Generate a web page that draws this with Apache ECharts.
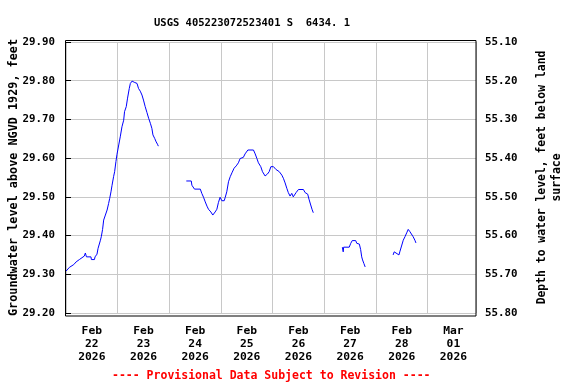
<!DOCTYPE html>
<html>
<head>
<meta charset="utf-8">
<script src="https://cdn.jsdelivr.net/npm/echarts@6/dist/echarts.min.js"></script>
<style>html,body{margin:0;padding:0;background:#fff}#c{width:576px;height:384px}</style>
</head>
<body>
<div id="c"></div>
<script>
// Hours since Feb 22 2026 00:00 and water level (ft above NGVD 1929)
const seg1Hours = [0.0,1.6,3.6,4.7,6.2,8.5,9.0,9.5,11.6,11.8,13.2,13.5,14.4,14.9,16.0,16.4,17.0,17.5,18.3,19.1,19.8,20.3,20.9,21.4,22.1,22.6,23.2,23.7,24.5,25.2,26.0,26.8,27.2,28.0,28.6,29.4,29.9,30.7,31.7,32.3,33.0,33.7,34.5,35.3,36.0,36.8,37.6,38.4,39.2,39.9,40.4,41.2,41.9,42.5,42.9];
const seg1Levels = [29.308,29.318,29.325,29.332,29.338,29.347,29.355,29.345,29.345,29.338,29.338,29.345,29.352,29.367,29.388,29.397,29.416,29.440,29.453,29.466,29.483,29.496,29.513,29.530,29.552,29.565,29.591,29.610,29.634,29.655,29.681,29.698,29.720,29.733,29.755,29.780,29.793,29.799,29.796,29.800,29.793,29.780,29.773,29.763,29.750,29.733,29.718,29.703,29.690,29.677,29.660,29.651,29.642,29.636,29.631];
const seg2Hours = [55.9,58.2,58.5,59.7,62.4,63.1,63.9,64.7,65.5,66.2,67.3,68.2,69.3,70.1,70.8,71.6,72.4,73.5,74.0,74.7,75.5,76.3,77.1,78.1,79.1,80.1,80.9,82.4,83.2,84.5,87.1,87.9,88.7,89.4,90.5,91.3,92.5,93.0,93.6,94.4,95.2,96.4,97.5,98.2,99.1,100.3,101.0,101.8,102.6,103.3,104.1,104.9,105.6,106.9,108.0,110.3,111.1,112.3,112.9,113.7,114.3,114.9];
const seg2Levels = [29.541,29.541,29.530,29.520,29.520,29.509,29.499,29.487,29.476,29.468,29.461,29.453,29.461,29.468,29.485,29.499,29.490,29.490,29.499,29.513,29.539,29.552,29.562,29.574,29.580,29.588,29.599,29.602,29.611,29.621,29.621,29.611,29.599,29.588,29.578,29.565,29.554,29.550,29.559,29.565,29.578,29.578,29.571,29.575,29.565,29.556,29.548,29.536,29.522,29.511,29.502,29.509,29.500,29.511,29.519,29.519,29.511,29.507,29.494,29.479,29.468,29.459];
const seg3Hours = [128.4,128.8,129.0,131.6,132.3,133.0,134.6,135.1,136.3,136.9,137.4,137.8,138.4,139.0];
const seg3Levels = [29.370,29.358,29.370,29.370,29.380,29.387,29.387,29.380,29.378,29.364,29.345,29.337,29.328,29.319];
const seg4Hours = [152.0,152.5,153.2,154.7,155.1,155.9,156.7,157.5,158.3,159.0,159.8,160.6,161.3,162.1,162.6];
const seg4Levels = [29.350,29.358,29.354,29.350,29.358,29.373,29.388,29.397,29.407,29.416,29.410,29.407,29.397,29.388,29.381];

const dayLabels = ['Feb\n22\n2026','Feb\n23\n2026','Feb\n24\n2026','Feb\n25\n2026','Feb\n26\n2026','Feb\n27\n2026','Feb\n28\n2026','Mar\n01\n2026'];
const leftTicks = [29.2, 29.9];
const rightTicks = [55.1, 55.8];
const titleText = 'USGS 405223072523401 S  6434. 1';
const footerText = '---- Provisional Data Subject to Revision ----';

const FONT = '"DejaVu Sans Mono", "Liberation Mono", monospace';
const zip = (h, v) => h.map((x, i) => [x, v[i]]);
const segs = [zip(seg1Hours, seg1Levels), zip(seg2Hours, seg2Levels), zip(seg3Hours, seg3Levels), zip(seg4Hours, seg4Levels)];

const chart = echarts.init(document.getElementById('c'), null, {renderer: 'canvas'});
chart.setOption({
  animation: false,
  backgroundColor: '#fff',
  title: {
    text: titleText, left: 247, top: 13, textAlign: 'center',
    textStyle: {fontFamily: FONT, fontWeight: 'bold', fontSize: 10.5, color: '#000'}
  },
  grid: {left: 66, right: 100, top: 42, bottom: 71, containLabel: false, outerBoundsMode: 'none'},
  xAxis: [
    {
      type: 'value', min: 0, max: 190.5, interval: 24,
      axisLine: {show: false}, axisTick: {show: false}, axisLabel: {show: false},
      splitLine: {show: true, lineStyle: {color: '#c8c8c8', width: 1}}
    },
    {
      type: 'value', min: 0, max: 190.5, interval: 12, position: 'bottom',
      axisLine: {show: false}, axisTick: {show: false}, splitLine: {show: false},
      axisLabel: {
        show: true, showMinLabel: true, showMaxLabel: true, hideOverlap: false, margin: 12,
        fontFamily: FONT, fontWeight: 'bold', fontSize: 11.3, lineHeight: 13, color: '#000',
        formatter: function (h) {
          const k = (h - 12) / 24;
          if (Math.abs(k - Math.round(k)) > 1e-6) return '';
          return dayLabels[Math.round(k)] || '';
        }
      }
    }
  ],
  yAxis: [
    {
      type: 'value', min: leftTicks[0], max: leftTicks[1], interval: 0.1, position: 'left',
      name: 'Groundwater level above NGVD 1929, feet', nameLocation: 'middle', nameRotate: 90, nameGap: 46,
      nameMoveOverlap: false,
      nameTextStyle: {fontFamily: FONT, fontWeight: 'bold', fontSize: 11.8, color: '#000'},
      axisLine: {show: false},
      axisTick: {show: true, inside: true, length: 5, lineStyle: {color: '#000'}},
      axisLabel: {fontFamily: FONT, fontWeight: 'bold', fontSize: 10.8, color: '#000', margin: 11,
        formatter: v => v.toFixed(2)},
      splitLine: {show: true, lineStyle: {color: '#c8c8c8', width: 1}}
    },
    {
      type: 'value', min: rightTicks[0], max: rightTicks[1], interval: 0.1, inverse: true, position: 'right',
      name: 'Depth to water level, feet below land\nsurface', nameLocation: 'middle', nameRotate: 90, nameGap: 59,
      nameMoveOverlap: false,
      nameTextStyle: {fontFamily: FONT, fontWeight: 'bold', fontSize: 11.4, color: '#000', lineHeight: 15, align: 'center'},
      axisLine: {show: false},
      axisTick: {show: true, inside: false, length: 5, lineStyle: {color: '#000'}},
      axisLabel: {fontFamily: FONT, fontWeight: 'bold', fontSize: 10.8, color: '#000', margin: 9,
        formatter: v => v.toFixed(2)},
      splitLine: {show: false}
    }
  ],
  series: segs.map(d => ({
    type: 'line', xAxisIndex: 0, yAxisIndex: 0, data: d,
    showSymbol: false, symbol: 'none',
    lineStyle: {color: '#0000ff', width: 1}, silent: true
  })),
  graphic: [
    {
      type: 'rect', z: 100, silent: true,
      shape: {x: 65.5, y: 40.5, width: 410.5, height: 275.5},
      style: {fill: null, stroke: '#000', lineWidth: 1}
    },
    {
      type: 'text', left: 271 - 159, top: 370, silent: true,
      style: {text: footerText, fill: '#ff0000', font: 'bold 11.5px ' + FONT}
    }
  ]
});
</script>
</body>
</html>
